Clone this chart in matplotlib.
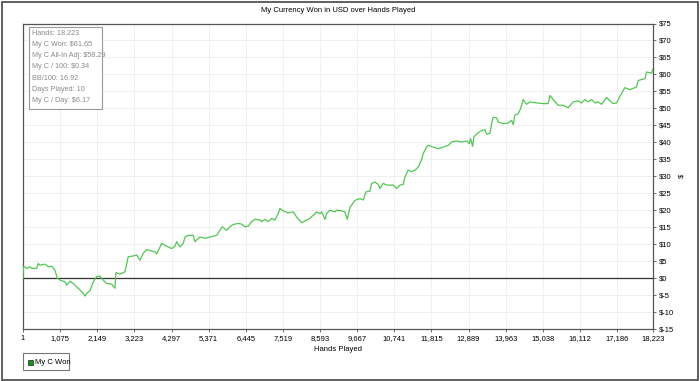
import matplotlib
matplotlib.use("Agg")
import matplotlib.pyplot as plt
from matplotlib.patches import Rectangle
from matplotlib.ticker import FuncFormatter, FixedLocator

plt.rcParams["font.family"] = ["Liberation Sans", "DejaVu Sans"]

# ── data ───────────────────────────────────────────────────────────────────
hands = [1, 15, 58, 107, 202, 252, 396, 443, 492, 636, 732, 830, 877, 926,
         992, 1071, 1215, 1264, 1360, 1455, 1553, 1649, 1744, 1793, 1842,
         1938, 2033, 2131, 2227, 2322, 2421, 2566, 2661, 2690, 2806, 2950,
         3046, 3190, 3288, 3384, 3479, 3578, 3722, 3818, 3867, 4012, 4156,
         4301, 4396, 4445, 4541, 4636, 4685, 4781, 4925, 4974, 5070, 5119,
         5263, 5602, 5699, 5764, 5892, 5987, 6083, 6227, 6326, 6420, 6516,
         6614, 6709, 6854, 6903, 6999, 7094, 7192, 7288, 7383, 7432, 7528,
         7672, 7817, 7915, 8060, 8204, 8300, 8395, 8494, 8589, 8638, 8685,
         8734, 8783, 8878, 9023, 9072, 9217, 9312, 9379, 9457, 9601, 9746,
         9841, 9920, 10035, 10084, 10180, 10275, 10324, 10420, 10518, 10709,
         10807, 10903, 10999, 11048, 11143, 11241, 11337, 11432, 11530, 11576,
         11675, 11721, 11866, 12011, 12155, 12300, 12398, 12543, 12687, 12832,
         12907, 12947, 13005, 13043, 13121, 13266, 13361, 13410, 13506, 13555,
         13601, 13700, 13746, 13891, 14035, 14133, 14180, 14229, 14324, 14393,
         14469, 14567, 14662, 14856, 15047, 15191, 15241, 15336, 15481, 15626,
         15770, 15915, 16059, 16158, 16253, 16349, 16447, 16542, 16638, 16736,
         16881, 16976, 17071, 17170, 17265, 17410, 17554, 17748, 17794, 17893,
         17988, 18037, 18182, 18223]
won = [0, 3.3, 3.3, 2.85, 3.3, 2.9, 2.85, 4.3, 3.8, 4.1, 3.3, 3.5, 2.85, 2.35,
       0, -0.6, -1.1, -2.1, -0.9, -1.6, -2.6, -3.5, -4.5, -5.3, -4.5,
       -3.7, -1.1, 0.4, 0.6, -0.6, -1.6, -1.8, -3.0, 1.6, 1.2, 1.85,
       6.3, 6.5, 6.8, 5.3, 7.3, 8.4, 8.0, 7.7, 7.1, 10.2, 9.4,
       8.7, 9.4, 10.7, 9.2, 10.2, 12.1, 12.6, 12.6, 10.7, 11.7, 12.1,
       11.7, 12.6, 14.1, 15.1, 14.1, 15.1, 15.8, 16.1, 15.9, 15.1, 15.3,
       16.6, 17.3, 17.1, 16.6, 17.3, 16.6, 17.6, 17.1, 19.0, 20.5, 19.8,
       19.2, 19.5, 18.0, 16.3, 17.1, 17.6, 18.5, 19.5, 19.0, 19.5, 18.5,
       17.3, 19.0, 20.0, 19.5, 20.0, 19.8, 19.5, 17.3, 20.8, 22.9, 23.4,
       23.0, 25.4, 25.6, 27.9, 28.3, 27.6, 26.4, 27.9, 27.4, 27.4,
       26.4, 27.4, 27.6, 29.8, 31.8, 31.3, 31.8, 32.7, 34.9, 36.7,
       38.6, 39.1, 38.6, 38.1, 38.6, 39.1, 40.1, 40.4, 40.1, 40.4,
       39.6, 41.1, 38.8, 41.6, 42.4, 43.5, 43.7, 42.4, 42.6, 45.5,
       47.4, 47.2, 46.0, 45.5, 45.7, 46.5, 45.2, 48.0, 48.4, 49.9,
       52.6, 51.2, 51.9, 51.6, 51.4, 51.4, 53.8, 52.6, 50.9, 50.9,
       50.2, 51.9, 52.2, 51.6, 52.6, 51.9, 52.6, 51.6, 51.9, 51.2,
       53.2, 52.2, 51.4, 51.6, 53.5, 56.1, 55.5, 56.3, 58.2, 58.5,
       58.7, 60.7, 60.4, 61.65]

x_ticks = [1, 1075, 2149, 3223, 4297, 5371, 6445, 7519, 8593, 9667, 10741,
           11815, 12889, 13963, 15038, 16112, 17186, 18223]
y_ticks = list(range(-15, 80, 5))

stats = ["Hands: 18,223", "My C Won: $61.65", "My C All-In Adj: $58.29",
         "My C / 100: $0.34", "BB/100: 16.92", "Days Played: 10",
         "My C / Day: $6.17"]

LINE = "#4fc84f"
EDGE = "#555555"
FS = 5.5

fig = plt.figure(figsize=(7.0, 3.81), dpi=100)
fig.patch.set_facecolor("white")
ax = fig.add_axes([23 / 700, 52 / 381, 630 / 700, 305.5 / 381])

ax.plot(hands, won, color=LINE, lw=0.9, zorder=3)
ax.axhline(0, color="#333333", lw=0.9, zorder=2)

ax.set_xlim(1, 18223)
ax.set_ylim(-15, 75)
ax.xaxis.set_major_locator(FixedLocator(x_ticks))
ax.xaxis.set_major_formatter(FuncFormatter(lambda v, p: f"{int(round(v)):,}"))
ax.yaxis.set_major_locator(FixedLocator(y_ticks))
ax.yaxis.set_major_formatter(FuncFormatter(lambda v, p: r"\$" + f"{int(v)}"))
ax.yaxis.tick_right()
ax.yaxis.set_label_position("right")
ax.tick_params(axis="both", labelsize=FS, length=2.5, width=0.6,
               color=EDGE, pad=1.5, direction="out")
ax.grid(True, color="#eeeeee", lw=0.6, zorder=0)
for s in ax.spines.values():
    s.set_color(EDGE)
    s.set_linewidth(0.9)

ax.set_title("My Currency Won in USD over Hands Played", fontsize=FS, pad=8)
ax.set_xlabel("Hands Played", fontsize=FS, labelpad=3)
ax.set_ylabel(r"\$", fontsize=FS, rotation=90)
ax.yaxis.set_label_coords(1.04, 0.5)

# stats box
fig.patches.append(Rectangle((29 / 700, 1 - 109 / 381), 73 / 700, 82 / 381,
                             transform=fig.transFigure, facecolor="white",
                             edgecolor="#999999", lw=0.8, zorder=5))
for i, s in enumerate(stats):
    fig.text(32 / 700, 1 - (33 + i * 11.3) / 381, s, fontsize=5.2,
             color="#8a8a8a", va="center", ha="left", zorder=6)

# legend
fig.patches.append(Rectangle((23 / 700, 1 - 370 / 381), 46 / 700, 17 / 381,
                             transform=fig.transFigure, facecolor="white",
                             edgecolor="#777777", lw=0.8))
fig.patches.append(Rectangle((28 / 700, 1 - 364.5 / 381), 5 / 700, 5 / 381,
                             transform=fig.transFigure, facecolor="#119911",
                             edgecolor="#222222", lw=0.5))
fig.text(35 / 700, 1 - 362 / 381, "My C Won", fontsize=FS, va="center",
         ha="left")

# outer frame
fig.patches.append(Rectangle((1.5 / 700, 1.5 / 381), 696 / 700, 378 / 381,
                             transform=fig.transFigure, facecolor="none",
                             edgecolor="#444444", lw=1.2))

fig.savefig("out.png", dpi=100, facecolor="white")
